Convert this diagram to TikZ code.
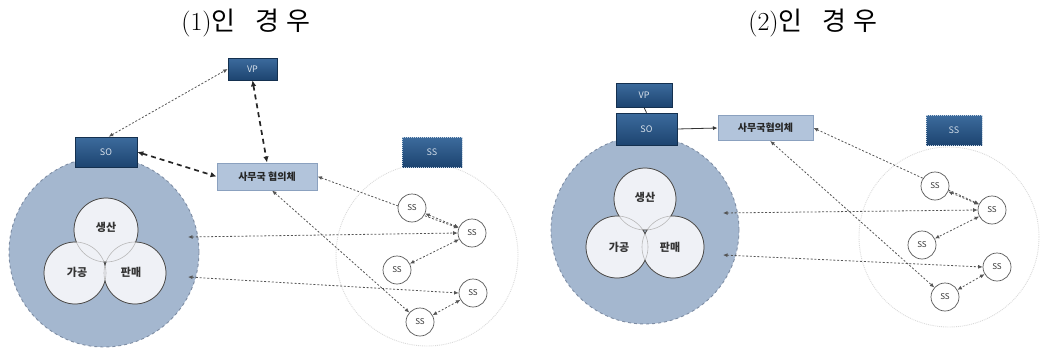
\documentclass[tikz,border=0pt]{standalone}
\usepackage{fontspec}
\newfontfamily\kr{Noto Sans CJK KR}
\usetikzlibrary{arrows.meta}
\pgfdeclarelayer{bottom}
\pgfdeclarelayer{links}
\pgfsetlayers{bottom,links,main}

\definecolor{orgfill}{HTML}{A4B7CF}
\definecolor{orgedge}{HTML}{7D8CA3}
\definecolor{navytop}{HTML}{3C6B9D}
\definecolor{navybot}{HTML}{1D4470}
\definecolor{navyedge}{HTML}{14304F}
\definecolor{secfill}{HTML}{B2C4DB}
\definecolor{secedge}{HTML}{8BA1BF}
\definecolor{vennfill}{HTML}{EFF1F6}
\definecolor{ringedge}{HTML}{DADADA}
\definecolor{linkc}{HTML}{555555}

\tikzset{
  tip/.tip={Latex[length=4.5pt,width=4pt]},
  title/.style={font=\fontsize{26}{30}\selectfont, inner sep=0pt},
  orgcircle/.style={circle, fill=orgfill, draw=orgedge, dashed, line width=0.9pt, inner sep=0pt},
  ringcircle/.style={circle, draw=ringedge, densely dotted, line width=0.9pt, inner sep=0pt},
  venncircle/.style={circle, inner sep=0pt},
  vennfaint/.style={draw=black!28, line width=0.6pt},
  vennline/.style={draw=black!72, line width=0.75pt},
  venntext/.style={font=\kr\bfseries\fontsize{11}{13}\selectfont, text=black!80, inner sep=0pt},
  navybox/.style={top color=navytop, bottom color=navybot, draw=navyedge, line width=0.6pt,
    text=white!80!navytop, font=\kr\fontsize{9}{11}\selectfont, inner sep=0pt},
  ssbox/.style={top color=navytop, bottom color=navybot, draw=white!70!navytop, line width=1pt,
    dash pattern=on 1pt off 1pt, text=white!75!navytop, font=\kr\fontsize{9}{11}\selectfont, inner sep=0pt},
  secbox/.style={fill=secfill, draw=secedge, line width=1pt, text=black!85,
    font=\kr\bfseries\fontsize{10}{12}\selectfont, inner sep=0pt},
  sscircle/.style={circle, fill=white, draw=black!65, line width=0.7pt, minimum size=28pt,
    inner sep=0pt, font=\kr\fontsize{8}{10}\selectfont, text=black!80},
  link/.style={draw=linkc, line width=0.8pt, dash pattern=on 2pt off 1.8pt, tip-tip},
  heavylink/.style={draw=black!85, line width=1.7pt, dash pattern=on 5pt off 4pt,
    {Latex[length=6pt,width=5.5pt]}-{Latex[length=6pt,width=5.5pt]}},
  solidlink/.style={draw=black!80, line width=0.8pt},
}

\begin{document}
\begin{tikzpicture}[x=1pt, y=-1pt]
\useasboundingbox (0,0) rectangle (1040,353);

% ---------- titles ----------
\node[title] (t1) at (246,23) {(1){\kr 인\hspace{0.75em}경\hspace{0.3em}우}};
\node[title] (t2) at (813,23) {(2){\kr 인\hspace{0.75em}경\hspace{0.3em}우}};

% ================= case (1) =================
\begin{pgfonlayer}{bottom}
  \node[orgcircle, minimum size=190pt] (org1) at (104,252) {};
  \node[ringcircle, minimum size=182pt] (ring1) at (427,255) {};
\end{pgfonlayer}

% three overlapping activity circles: light fill, faint inner arcs, dark outer rim
\node[venncircle, minimum size=64pt] (pa1) at (106,230) {};
\node[venncircle, minimum size=62pt] (pb1) at (75,273) {};
\node[venncircle, minimum size=62pt] (pc1) at (135,273) {};
\fill[vennfill] (pa1.center) circle[radius=32] (pb1.center) circle[radius=31] (pc1.center) circle[radius=31];
\draw[vennfaint] (pa1.center) circle[radius=32] (pb1.center) circle[radius=31] (pc1.center) circle[radius=31];
\begin{scope}[even odd rule]
  \clip (0,0) rectangle (1040,353) (pb1.center) circle[radius=31];
  \clip (0,0) rectangle (1040,353) (pc1.center) circle[radius=31];
  \draw[vennline] (pa1.center) circle[radius=32];
\end{scope}
\begin{scope}[even odd rule]
  \clip (0,0) rectangle (1040,353) (pa1.center) circle[radius=32];
  \clip (0,0) rectangle (1040,353) (pc1.center) circle[radius=31];
  \draw[vennline] (pb1.center) circle[radius=31];
\end{scope}
\begin{scope}[even odd rule]
  \clip (0,0) rectangle (1040,353) (pa1.center) circle[radius=32];
  \clip (0,0) rectangle (1040,353) (pb1.center) circle[radius=31];
  \draw[vennline] (pc1.center) circle[radius=31];
\end{scope}
\node[venntext] (la1) at (106,227) {생산};
\node[venntext] (lb1) at (77,272) {가공};
\node[venntext] (lc1) at (131,272) {판매};

\node[navybox, minimum width=62pt, minimum height=30pt] (so1) at (106,152) {SO};
\node[navybox, minimum width=49pt, minimum height=22pt] (vp1) at (252.5,69) {VP};
\node[secbox, minimum width=100pt, minimum height=27pt] (sec1) at (267,176.5) {사무국 협의체};
\node[ssbox, minimum width=60pt, minimum height=30pt] (ssb1) at (432,152) {SS};

\node[sscircle] (s11) at (412,208) {SS};
\node[sscircle] (s12) at (472,233) {SS};
\node[sscircle] (s13) at (397,270) {SS};
\node[sscircle] (s14) at (473,293) {SS};
\node[sscircle] (s15) at (420,322) {SS};

\coordinate (o1a) at (188,237);
\coordinate (o1b) at (188,277);

\begin{pgfonlayer}{links}
  \draw[link] (so1.80) -- (vp1.west);
  \draw[heavylink] (vp1.south) -- (sec1.north);
  \draw[heavylink] (so1.east) -- (sec1.west);
  \draw[link] (sec1.east) -- (s12);
  \draw[link] (sec1.290) -- (s15);
  \draw[link] (o1a) -- (s12.west);
  \draw[link] (o1b) -- (s14.west);
  \draw[link] (s11) -- (s12);
  \draw[link] (s12) -- (s13);
  \draw[link] (s14) -- (s15);
\end{pgfonlayer}

% ================= case (2) =================
\begin{pgfonlayer}{bottom}
  \node[orgcircle, minimum size=188pt] (org2) at (645,230) {};
  \node[ringcircle, minimum size=180pt] (ring2) at (949,237) {};
\end{pgfonlayer}

\node[venncircle, minimum size=62pt] (pa2) at (645,199) {};
\node[venncircle, minimum size=62pt] (pb2) at (617,247) {};
\node[venncircle, minimum size=62pt] (pc2) at (673,247) {};
\fill[vennfill] (pa2.center) circle[radius=31] (pb2.center) circle[radius=31] (pc2.center) circle[radius=31];
\draw[vennfaint] (pa2.center) circle[radius=31] (pb2.center) circle[radius=31] (pc2.center) circle[radius=31];
\begin{scope}[even odd rule]
  \clip (0,0) rectangle (1040,353) (pb2.center) circle[radius=31];
  \clip (0,0) rectangle (1040,353) (pc2.center) circle[radius=31];
  \draw[vennline] (pa2.center) circle[radius=31];
\end{scope}
\begin{scope}[even odd rule]
  \clip (0,0) rectangle (1040,353) (pa2.center) circle[radius=31];
  \clip (0,0) rectangle (1040,353) (pc2.center) circle[radius=31];
  \draw[vennline] (pb2.center) circle[radius=31];
\end{scope}
\begin{scope}[even odd rule]
  \clip (0,0) rectangle (1040,353) (pa2.center) circle[radius=31];
  \clip (0,0) rectangle (1040,353) (pb2.center) circle[radius=31];
  \draw[vennline] (pc2.center) circle[radius=31];
\end{scope}
\node[venntext] (la2) at (645,197) {생산};
\node[venntext] (lb2) at (619,247) {가공};
\node[venntext] (lc2) at (670,247) {판매};

\node[navybox, minimum width=56pt, minimum height=24pt] (vp2) at (644,95) {VP};
\node[navybox, minimum width=61pt, minimum height=32pt] (so2) at (646.5,129) {SO};
\node[secbox, minimum width=95pt, minimum height=25pt] (sec2) at (765.5,128) {사무국협의체};
\node[ssbox, minimum width=56pt, minimum height=30pt] (ssb2) at (954,130) {SS};

\node[sscircle] (s21) at (935,186) {SS};
\node[sscircle] (s22) at (992,210) {SS};
\node[sscircle] (s23) at (922,245) {SS};
\node[sscircle] (s24) at (997,267) {SS};
\node[sscircle] (s25) at (945,297) {SS};

\coordinate (o2a) at (723,213);
\coordinate (o2b) at (723,255);

\begin{pgfonlayer}{links}
  \draw[solidlink] (vp2.south) -- (so2.north);
  \draw[solidlink, -tip] (so2.east) -- (sec2.west);
  \draw[link] (sec2.east) -- (s22);
  \draw[link] (sec2.290) -- (s25);
  \draw[link] (o2a) -- (s22.west);
  \draw[link] (o2b) -- (s24.west);
  \draw[link] (s21) -- (s22);
  \draw[link] (s22) -- (s23);
  \draw[link] (s24) -- (s25);
\end{pgfonlayer}
\end{tikzpicture}
\end{document}
